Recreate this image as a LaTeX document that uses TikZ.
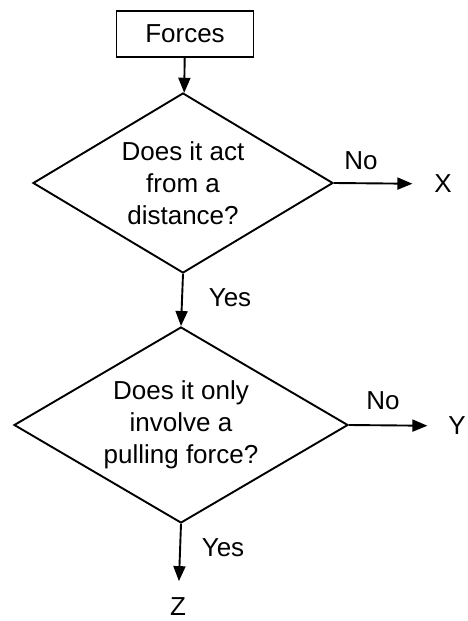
\documentclass[tikz,border=0pt]{standalone}
\usepackage{fontspec}
\setmainfont{Liberation Sans}
\usetikzlibrary{shapes.geometric,arrows.meta}

\begin{document}
\begin{tikzpicture}[x=1pt,y=-1pt,line width=1.9pt,
    every node/.style={font=\fontsize{26}{32}\selectfont},
    startbox/.style={draw,rectangle,minimum width=137pt,minimum height=46pt,inner sep=0pt},
    question/.style={draw,diamond,aspect=1.7,inner sep=0pt,align=center},
    outcome/.style={inner sep=0pt},
    flow/.style={-{Triangle[length=15pt,width=12pt]}}]
    \useasboundingbox (0,0) rectangle (468,621);

    % Start box
    \node[startbox] (forces) at (185,34) {Forces};

    % First question
    \node[question,minimum width=300pt,minimum height=180pt] (dist) at (183,183)
        {Does it act\\from a\\distance?};

    % Second question
    \node[question,minimum width=334pt,minimum height=196pt] (pull) at (181,425)
        {Does it only\\involve a\\pulling force?};

    % Outcomes
    \node[outcome] (X) at (443,184) {X};
    \node[outcome] (Y) at (457,426) {Y};
    \node[outcome] (Z) at (178,607) {Z};

    % Connectors
    \draw[flow] (forces) -- (dist);
    \draw[flow,shorten >=21pt] (dist.east) -- (X);
    \draw[flow] (dist.south) -- (pull.north);
    \draw[flow,shorten >=20pt] (pull.east) -- (Y);
    \draw[flow,shorten >=16pt] (pull.south) -- (Z);

    % Answers
    \node[outcome] (no1) at (361,161) {No};
    \node[outcome] (yes1) at (230,298) {Yes};
    \node[outcome] (no2) at (383,401) {No};
    \node[outcome] (yes2) at (223,548) {Yes};
\end{tikzpicture}
\end{document}
